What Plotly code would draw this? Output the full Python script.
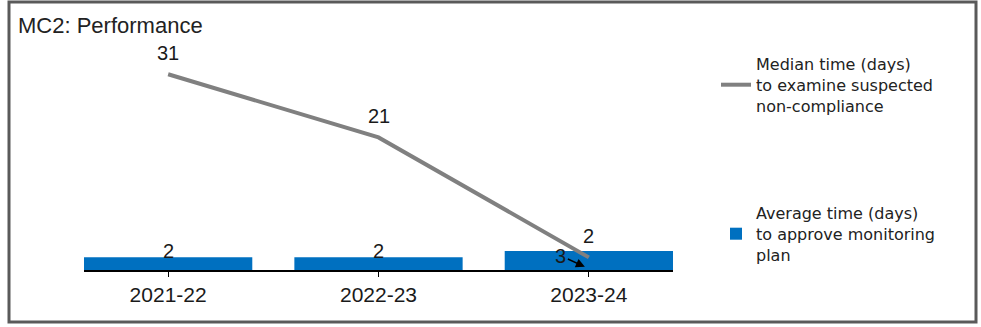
import plotly.graph_objects as go

# ---- data ----
categories = ["2021-22", "2022-23", "2023-24"]
median_days = [31, 21, 2]          # line series
average_days = [2, 2, 3]           # bar series
line_name = "Median time (days)<br>to examine suspected<br>non-compliance"
bar_name = "Average time (days)<br>to approve monitoring<br>plan"
title_text = "MC2: Performance"

W, H = 981, 327
ML, MR, MT, MB = 84, W - 673, 49, H - 270
PW, PH = W - ML - MR, H - MT - MB


def px_x(p):
    return (p - ML) / PW


def px_y(p):
    return (H - MB - p) / PH


fig = go.Figure()
fig.add_trace(go.Bar(
    x=categories, y=average_days, name=bar_name,
    marker=dict(color="#0070C0", line=dict(width=0)),
    legend="legend2",
))
fig.add_trace(go.Scatter(
    x=categories, y=median_days, name=line_name, mode="lines",
    line=dict(color="#808080", width=4),
    legend="legend",
))

label_font = dict(family="Liberation Sans, Arial, sans-serif", size=20, color="#1a1a1a")
annotations = []
for c, v in zip(categories, median_days):
    annotations.append(dict(x=c, y=v, text=str(v), showarrow=False, yshift=21, font=label_font))
for i, (c, v) in enumerate(zip(categories, average_days)):
    if i < len(categories) - 1:
        annotations.append(dict(x=c, y=v, text=str(v), showarrow=False, yshift=6, font=label_font))
    else:
        annotations.append(dict(x=c, y=0.5, text=str(v), showarrow=True, ax=-24, ay=-11,
                                arrowhead=2, arrowsize=1.2, arrowwidth=1.5, arrowcolor="#000",
                                xshift=-4, font=label_font))

fig.update_layout(
    width=W, height=H,
    margin=dict(l=ML, r=MR, t=MT, b=MB),
    paper_bgcolor="white", plot_bgcolor="white",
    bargap=0.2,
    title=dict(text=title_text, x=18 / W, xref="container", xanchor="left",
               y=1 - 25 / H, yref="container", yanchor="middle",
               font=dict(family="Liberation Sans, Arial, sans-serif", size=22, color="#222")),
    xaxis=dict(type="category", range=[-0.4, 2.4], showline=True, linecolor="#000", linewidth=2,
               ticks="outside", ticklen=5, tickcolor="#000", tickwidth=1, showgrid=False,
               tickfont=dict(family="Liberation Sans, Arial, sans-serif", size=21, color="#1a1a1a")),
    yaxis=dict(range=[0, 35], visible=False, showgrid=False, zeroline=False),
    legend=dict(x=px_x(716), y=px_y(85), xanchor="left", yanchor="middle",
                font=dict(family="DejaVu Sans, sans-serif", size=16, color="#222"),
                bgcolor="rgba(0,0,0,0)"),
    legend2=dict(x=px_x(716), y=px_y(234), xanchor="left", yanchor="middle",
                 font=dict(family="DejaVu Sans, sans-serif", size=16, color="#222"),
                 bgcolor="rgba(0,0,0,0)"),
    annotations=annotations,
    shapes=[dict(type="rect", xref="paper", yref="paper",
                 x0=px_x(9), x1=px_x(976), y0=px_y(2), y1=px_y(322),
                 line=dict(color="#5a5a5a", width=3), layer="below")],
    showlegend=True,
)

fig.write_html("out.html", config={"displayModeBar": False},
               post_script="document.body.style.margin='0';document.body.style.overflow='hidden';")
